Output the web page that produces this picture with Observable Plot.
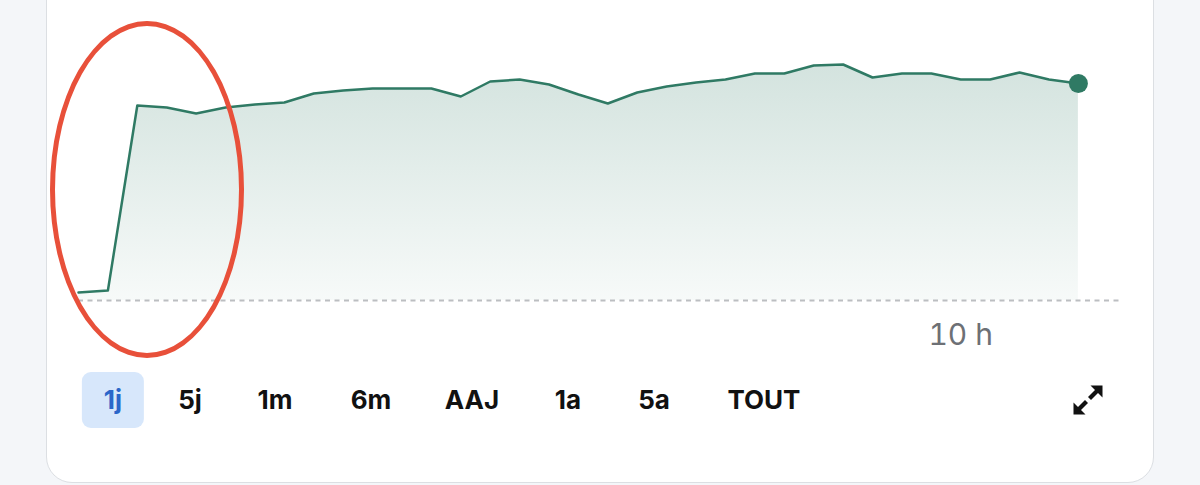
<!DOCTYPE html>
<html>
<head>
<meta charset="utf-8">
<script src="https://cdn.jsdelivr.net/npm/d3@7"></script>
<script src="https://cdn.jsdelivr.net/npm/@observablehq/plot@0.6"></script>
<style>
  html, body { margin: 0; padding: 0; background: #f4f6f9; }
  #stage { position: relative; width: 1200px; height: 485px; overflow: hidden; font-family: Inter, "Noto Sans", sans-serif; }
  #card { position: absolute; left: 46px; top: -40px; width: 1108px; height: 523px; box-sizing: border-box;
          background: #ffffff; border: 1.5px solid #dcdfe3; border-radius: 26px; }
  #chart { position: absolute; left: 0; top: 0; }
  #ring { position: absolute; left: 50px; top: 21px; width: 194px; height: 337px; box-sizing: border-box;
          border: 5px solid #e8503a; border-radius: 50%; pointer-events: none; }
  .range { position: absolute; top: 372px; height: 56px; line-height: 56px; padding: 0 22px; transform: translateX(-50%);
           font-size: 26px; font-weight: 700; color: #111111; border-radius: 9px; white-space: nowrap; }
  .range.active { background: #d7e7fb; color: #2b66c9; }
  #expand { position: absolute; left: 1073px; top: 385px; }
</style>
</head>
<body>
<div id="stage">
  <div id="card"></div>
  <div id="chart"></div>
  <div id="ring"></div>
  <div id="ranges"></div>
  <svg id="expand" width="30" height="30" viewBox="0 0 30 30">
    <polygon points="29.5,0.5 29.5,12.5 17.5,0.5" fill="#111"/>
    <line x1="16.5" y1="13.5" x2="25" y2="5" stroke="#111" stroke-width="4.2"/>
    <polygon points="0.5,29.5 0.5,17.5 12.5,29.5" fill="#111"/>
    <line x1="13.5" y1="16.5" x2="5" y2="25" stroke="#111" stroke-width="4.2"/>
  </svg>
</div>
<script>
// ---- data ----
const times = ["09:00","09:02","09:04","09:06","09:08","09:10","09:12","09:14","09:16","09:18",
               "09:20","09:22","09:24","09:26","09:28","09:30","09:32","09:34","09:36","09:38",
               "09:40","09:42","09:44","09:46","09:48","09:50","09:52","09:54","09:56","09:58",
               "10:00","10:02","10:04","10:06","10:08"];
const prices = [50.08, 50.10, 51.95, 51.93, 51.87, 51.93, 51.96, 51.98, 52.07, 52.10,
                52.12, 52.12, 52.12, 52.04, 52.19, 52.21, 52.16, 52.06, 51.97, 52.08,
                52.14, 52.18, 52.21, 52.27, 52.27, 52.35, 52.36, 52.23, 52.27, 52.27,
                52.21, 52.21, 52.28, 52.21, 52.17];
const previousClose = 50.00;
const timeWindow = ["09:00", "10:11"];
const priceWindow = [50.00, 52.60];
const tickTimes = ["10:00"];
const tickLabels = ["10 h"];
const ranges = ["1j", "5j", "1m", "6m", "AAJ", "1a", "5a", "TOUT"];
const activeRange = "1j";

// ---- build ----
const day = "2024-01-02";
const toDate = t => new Date(`${day}T${t}:00Z`);
const data = times.map((t, i) => ({date: toDate(t), price: prices[i]}));
const tickDates = tickTimes.map(toDate);

const gradientDefs = () => {
  const ns = "http://www.w3.org/2000/svg";
  const defs = document.createElementNS(ns, "defs");
  const g = document.createElementNS(ns, "linearGradient");
  g.setAttribute("id", "areaGrad");
  g.setAttribute("x1", "0"); g.setAttribute("y1", "0");
  g.setAttribute("x2", "0"); g.setAttribute("y2", "1");
  [["0%", 0.21], ["100%", 0.04]].forEach(([o, a]) => {
    const s = document.createElementNS(ns, "stop");
    s.setAttribute("offset", o);
    s.setAttribute("stop-color", "#2f7a64");
    s.setAttribute("stop-opacity", a);
    g.appendChild(s);
  });
  defs.appendChild(g);
  return defs;
};

const chart = Plot.plot({
  width: 1200,
  height: 360,
  marginLeft: 78,
  marginRight: 78,
  marginTop: 40,
  marginBottom: 60,
  style: {fontFamily: "Inter, 'Noto Sans', sans-serif", background: "transparent", overflow: "visible"},
  x: {type: "utc", domain: timeWindow.map(toDate)},
  y: {domain: priceWindow, axis: null},
  marks: [
    gradientDefs,
    Plot.areaY(data, {x: "date", y1: previousClose, y2: "price", fill: "url(#areaGrad)"}),
    Plot.ruleY([previousClose], {stroke: "#bcbec1", strokeWidth: 2.2, strokeDasharray: "5,4.5"}),
    Plot.lineY(data, {x: "date", y: "price", stroke: "#2f7a64", strokeWidth: 2.5, strokeLinejoin: "round"}),
    Plot.dot(data.slice(-1), {x: "date", y: "price", r: 9.5, fill: "#2f7a64"}),
    Plot.axisX({
      ticks: tickDates,
      tickFormat: d => tickLabels[tickDates.findIndex(t => +t === +d)],
      tickSize: 0,
      tickPadding: 23,
      fontSize: 30,
      color: "#6d7075"
    })
  ]
});
document.getElementById("chart").appendChild(chart);

// range selector row
const centers = [113, 190, 275, 371, 472, 568, 654, 764];
const row = document.getElementById("ranges");
ranges.forEach((r, i) => {
  const el = document.createElement("div");
  el.className = "range" + (r === activeRange ? " active" : "");
  el.style.left = centers[i] + "px";
  el.textContent = r;
  row.appendChild(el);
});
</script>
</body>
</html>
